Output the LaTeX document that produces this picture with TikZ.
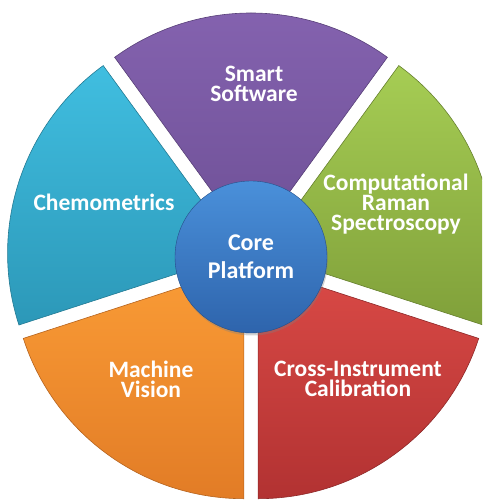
\documentclass[tikz,border=0pt]{standalone}
\usepackage{fontspec}
\setmainfont{Carlito}
\usetikzlibrary{shadows}

\definecolor{smarttop}{RGB}{133,99,176}
\definecolor{smartbot}{RGB}{110,80,150}
\definecolor{chemotop}{RGB}{64,190,224}
\definecolor{chemobot}{RGB}{44,152,184}
\definecolor{ramantop}{RGB}{166,205,84}
\definecolor{ramanbot}{RGB}{128,160,58}
\definecolor{visiontop}{RGB}{250,156,54}
\definecolor{visionbot}{RGB}{226,124,38}
\definecolor{calibtop}{RGB}{218,74,70}
\definecolor{calibbot}{RGB}{178,50,50}
\definecolor{hubtop}{RGB}{74,144,218}
\definecolor{hubbot}{RGB}{46,100,172}

\begin{document}
\begin{tikzpicture}[
    x=1pt, y=1pt,
    sector/.style={draw=#1!80!black, line width=0.6pt},
    tag/.style={text=white, align=center, font=\fontsize{23.5}{20}\selectfont\bfseries},
    hub/.style={circle, minimum size=152pt, inner sep=0pt, draw=hubbot!80!black,
                top color=hubtop, bottom color=hubbot, text=white, align=center,
                font=\fontsize{24}{27}\selectfont\bfseries}
]

\clip (-251,-245) rectangle (231,257);

% === Sectors (pulled out from the centre) ===
\foreach \mid/\ctop/\cbot in {90/smarttop/smartbot, 162/chemotop/chemobot,
                               234/visiontop/visionbot, 306/calibtop/calibbot,
                               18/ramantop/ramanbot}
  \path[sector=\cbot, top color=\ctop, bottom color=\cbot]
    (\mid:12) -- ++({\mid-36}:232) arc[start angle={\mid-36}, end angle={\mid+36}, radius=232] -- cycle;

% === Core ===
\node[hub, drop shadow={opacity=0.35, shadow xshift=1pt, shadow yshift=-2.5pt}] (core) at (0,0) {Core\\[1pt]Platform};

% === Labels ===
\node[tag] (smart)  at (3,173)    {Smart\\Software};
\node[tag] (chemo)  at (-147,55)  {Chemometrics};
\node[tag] (raman)  at (145,53)   {Computational\\Raman\\Spectroscopy};
\node[tag] (vision) at (-100,-122) {Machine\\Vision};
\node[tag] (calib)  at (107,-122) {Cross-Instrument\\Calibration};

\end{tikzpicture}
\end{document}
